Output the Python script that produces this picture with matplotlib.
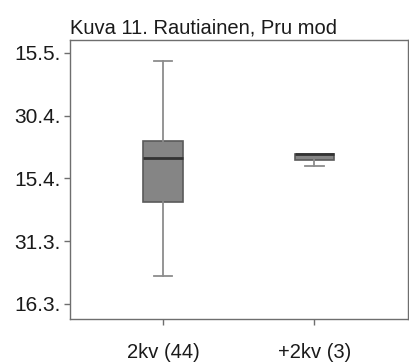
import matplotlib
matplotlib.use("Agg")
import matplotlib.pyplot as plt

plt.rcParams['font.family'] = ['Liberation Sans', 'DejaVu Sans']

title = "Kuva 11. Rautiainen, Pru mod"
categories = ["2kv (44)", "+2kv (3)"]
# values as day-of-year (16.3. = 75, 31.3. = 90, 15.4. = 105, 30.4. = 120, 15.5. = 135)
whislo = [81.7, 107.9]
q1 = [99.4, 109.3]
med = [110.0, 110.9]
q3 = [114.0, 110.9]
whishi = [133.1, 110.9]
ytick_vals = [75, 90, 105, 120, 135]
ytick_labels = ["16.3.", "31.3.", "15.4.", "30.4.", "15.5."]

fig = plt.figure(figsize=(4.10, 3.63), dpi=100)
ax = fig.add_axes([70/410, 1-319/363, 338/410, 279/363])

stats = []
for i, c in enumerate(categories):
    stats.append(dict(label=c, whislo=whislo[i], q1=q1[i], med=med[i],
                      q3=q3[i], whishi=whishi[i], fliers=[]))

ax.bxp(stats, positions=[1, 2], widths=0.26, patch_artist=True, showfliers=False,
       boxprops=dict(facecolor="#858585", edgecolor="#5a5a5a", linewidth=1.2),
       medianprops=dict(color="#333333", linewidth=2),
       whiskerprops=dict(color="#8c8c8c", linewidth=1.3),
       capprops=dict(color="#8c8c8c", linewidth=1.3),
       capwidths=0.125)

ax.set_xlim(0.385, 2.62)
ax.set_ylim(71.4, 138.1)
ax.set_yticks(ytick_vals)
ax.set_yticklabels(ytick_labels)
ax.set_xticks([1, 2])
ax.set_xticklabels(categories)

for s in ax.spines.values():
    s.set_color("#6e6e6e")
    s.set_linewidth(1.0)
ax.tick_params(axis='both', colors="#6e6e6e", labelcolor="#1a1a1a", length=4, width=1)
ax.tick_params(axis='y', labelsize=15, pad=3)
ax.tick_params(axis='x', labelsize=14.5, pad=13)

ax.set_title(title, loc='left', fontsize=14.5, pad=5, color="#1a1a1a")

fig.savefig("out.png", dpi=100)
